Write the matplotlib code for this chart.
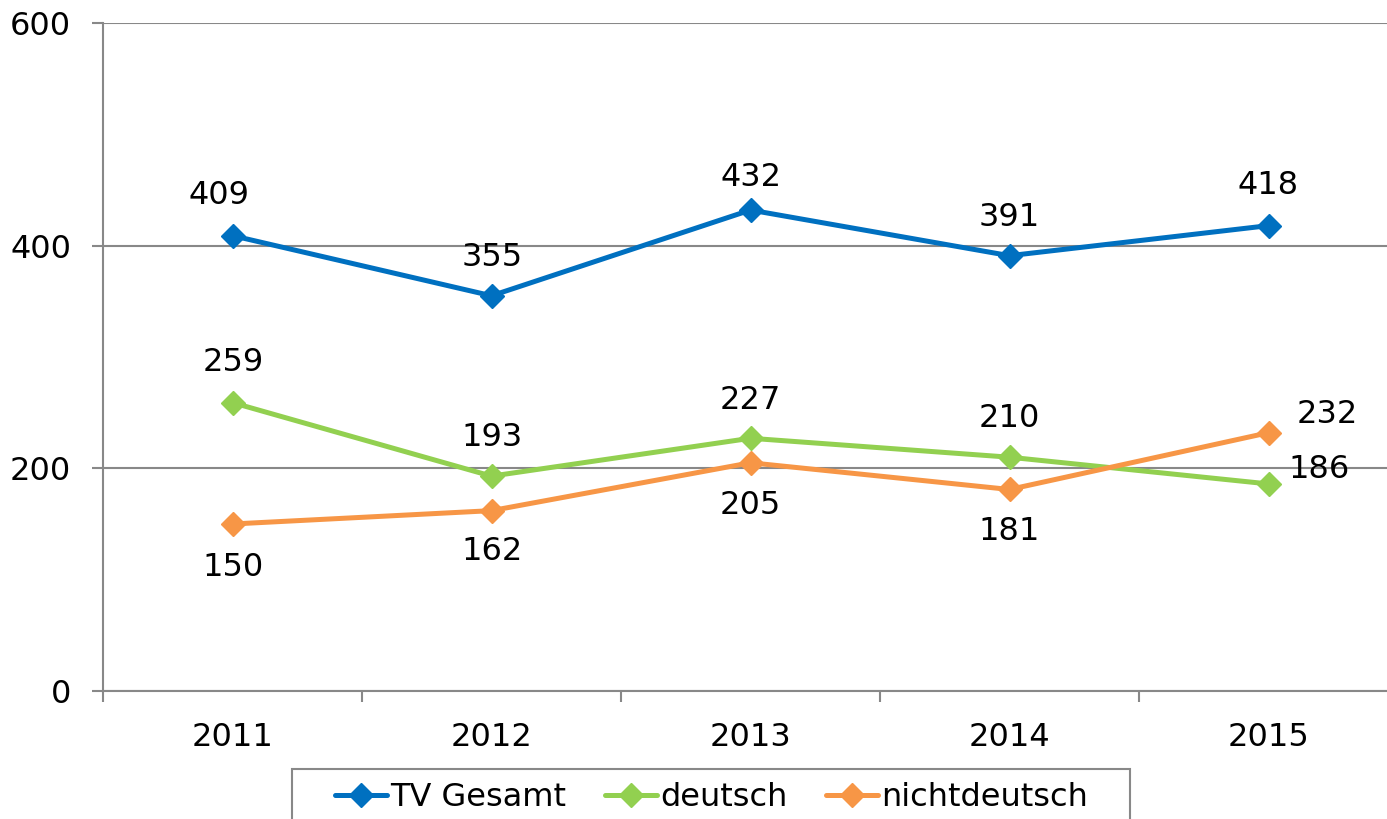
import matplotlib.pyplot as plt
from matplotlib.patches import Rectangle

years = ['2011', '2012', '2013', '2014', '2015']
tv_gesamt = [409, 355, 432, 391, 418]
deutsch = [259, 193, 227, 210, 186]
nichtdeutsch = [150, 162, 205, 181, 232]

W, H = 1387, 819
fig = plt.figure(figsize=(W / 100, H / 100), dpi=100)
ax = fig.add_axes([103 / W, 1 - 691 / H, (1387 - 103) / W, (691 - 23) / H])

plt.rcParams['font.family'] = ['DejaVu Sans']
fs = 23

x = list(range(1, 6))
series = [
    ('TV Gesamt', tv_gesamt, '#0070C0'),
    ('deutsch', deutsch, '#92D050'),
    ('nichtdeutsch', nichtdeutsch, '#F79646'),
]
for name, vals, col in series:
    ax.plot(x, vals, color=col, lw=3.6, marker='D', ms=12.5, label=name,
            solid_capstyle='round', zorder=3)

# label offsets in pixels (dx, dy)
offs = {
    'TV Gesamt': [(-14, 40), (1, 38), (1, 33), (0, 38), (0, 40)],
    'deutsch': [(1, 40), (1, 39), (0, 38), (0, 39), (51, 14)],
    'nichtdeutsch': [(1, -44), (1, -41), (0, -43), (0, -42), (59, 18)],
}
for name, vals, col in series:
    for xi, v, (dx, dy) in zip(x, vals, offs[name]):
        ax.annotate(str(v), (xi, v), xytext=(dx, dy), textcoords='offset pixels',
                    ha='center', va='center', fontsize=fs, color='black', zorder=4)

ax.set_xlim(0.5, 5.5 - 11 / 259)
ax.set_ylim(0, 600)
ax.set_yticks([0, 200, 400, 600])
ax.set_yticklabels(['0', '200', '400', '600'], fontsize=fs)
ax.set_xticks(x)
ax.set_xticklabels(years, fontsize=fs)
ax.set_xticks([0.5, 1.5, 2.5, 3.5, 4.5], minor=True)
ax.tick_params(axis='x', which='major', length=0, pad=22)
ax.tick_params(axis='x', which='minor', length=8, color='#888888', width=1.5)
ax.tick_params(axis='y', length=8, color='#888888', width=1.5, pad=15)

ax.grid(axis='y', color='#888888', lw=1.5, zorder=0)
for s in ['top', 'right']:
    ax.spines[s].set_visible(False)
for s in ['left', 'bottom']:
    ax.spines[s].set_color('#888888')
    ax.spines[s].set_linewidth(1.5)

fig.legend(loc='center', bbox_to_anchor=(711.5 / W, 1 - 798 / H),
           ncol=3, fontsize=fs, frameon=False, handlelength=1.63,
           columnspacing=1.2, handletextpad=0.1, borderpad=0, borderaxespad=0)
fig.add_artist(Rectangle((292 / W, 1 - 840 / H), (1130 - 292) / W, (840 - 769) / H,
                         transform=fig.transFigure, fill=False,
                         edgecolor='#888888', lw=1.5))

fig.savefig('out.png', dpi=100)
